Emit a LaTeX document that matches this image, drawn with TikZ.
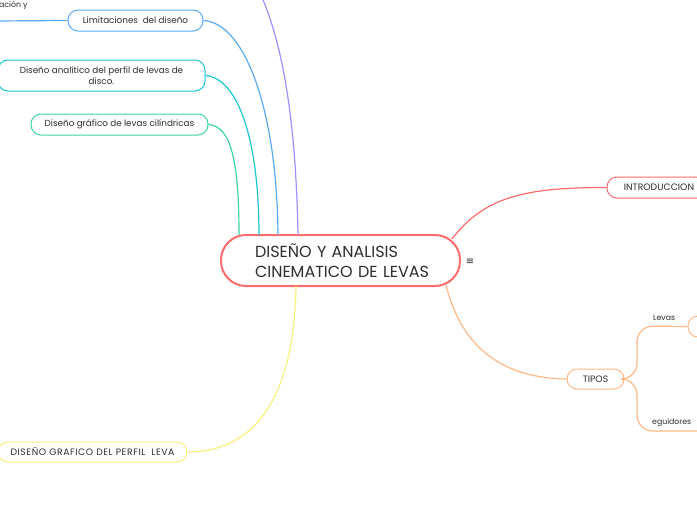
\documentclass[tikz,border=0pt]{standalone}
\usepackage{fontspec}
\setmainfont{Poppins}
\newfontfamily\symfont{DejaVu Sans}
\newfontfamily\widefont[LetterSpace=6]{Poppins}
\definecolor{cred}{RGB}{250,108,108}
\definecolor{cpurple}{RGB}{165,140,255}
\definecolor{cblue}{RGB}{90,170,245}
\definecolor{cteal}{RGB}{25,198,210}
\definecolor{cgreen}{RGB}{60,214,165}
\definecolor{cyellow}{RGB}{250,240,125}
\definecolor{corange}{RGB}{255,185,135}
\definecolor{ctext}{RGB}{45,45,50}
\tikzset{
  topic/.style={draw, rounded corners=10pt, line width=1pt, text=ctext, font=\fontsize{8.8}{10.5}\selectfont, inner sep=0pt, minimum height=21pt, align=center},
  capfont/.style={font=\fontsize{9.3}{11}\selectfont},
  conn/.style={line width=1.2pt},
  small/.style={text=ctext, font=\fontsize{7.8}{9}\selectfont, inner sep=0pt}
}
\begin{document}
\begin{tikzpicture}[x=1pt,y=-1pt]
\useasboundingbox[fill=white] (0,0) rectangle (697,520);
% central
\node[draw=cred, line width=2pt, rounded corners=25pt, minimum width=239pt, minimum height=51pt, text width=171pt, align=left, inner sep=0pt, text=ctext, font=\fontsize{16}{20.5}\selectfont] (central) at (340.5,260.5) {\mbox{DISEÑO Y ANALISIS}\\\mbox{CINEMATICO DE LEVAS}};
\node[text=ctext, font=\symfont\fontsize{10}{10}\selectfont, inner sep=0pt] (menu) at (470,262) {≡};
% anchor coordinates on central
\coordinate (cg) at (239,235);
\coordinate (ct) at (259,235);
\coordinate (cb) at (278,235);
\coordinate (cp) at (298,235);
\coordinate (cy) at (296,286);
\coordinate (ci) at (452,239);
\coordinate (co) at (446,285);
% left topics
\node[topic, draw=cblue, minimum width=135pt] (lim) at (135.5,20.5) {Limitaciones\ \ del diseño};
\node[topic, draw=cteal, minimum width=207pt, minimum height=31pt] (ana) at (101.5,75.5) {Diseño analítico del perfil de levas de\\disco.};
\node[topic, draw=cgreen, minimum width=177pt] (gra) at (119.5,124.5) {Diseño gráfico de levas cilíndricas};
\node[topic, font=\widefont\fontsize{9.3}{11}\selectfont, draw=cyellow, minimum width=189pt, minimum height=20pt] (perf) at (92.5,452) {DISEÑO GRAFICO DEL PERFIL\ \ LEVA};
\node[small, anchor=west] (acion) at (-1,5) {ación y};
\coordinate (offl) at (-5,21);
\coordinate (offp) at (261,-5);
% right topics
\node[topic, capfont, draw=cred, minimum width=104pt] (intro) at (659,187.5) {INTRODUCCION};
\node[topic, capfont, draw=corange, minimum width=57pt, minimum height=20pt] (tipos) at (595.5,379) {TIPOS};
\node[topic, draw=corange, minimum width=34pt] (levbox) at (705,326.5) {};
\node[small, anchor=west] (levas) at (653,318) {Levas};
\node[small, anchor=west] (segu) at (652,423) {eguidores};
\coordinate (offs) at (705,431);
% connectors
\draw[conn, cgreen] (cg) .. controls (239,165) and (232,126) .. (gra.east);
\draw[conn, cteal] (ct) .. controls (259,140) and (238,78) .. (ana.east);
\draw[conn, cblue] (cb) .. controls (277,110) and (245,23) .. (lim.east);
\draw[conn, cblue] (lim.west) -- (offl);
\draw[conn, cpurple] (cp) .. controls (296,130) and (285,50) .. (offp);
\draw[conn, cyellow] (cy) .. controls (294,405) and (250,452) .. (perf.east);
\draw[conn, cred] (ci) .. controls (485,195) and (530,187.5) .. (intro.west);
\draw[conn, corange] (co) .. controls (462,350) and (505,378) .. (tipos.west);
\draw[conn, corange, rounded corners=16pt] (tipos.east) -- (637,379) -- (637,326) -- (levbox.west);
\draw[conn, corange, rounded corners=16pt] (tipos.east) -- (637,379) -- (637,431) -- (offs);
\end{tikzpicture}
\end{document}
